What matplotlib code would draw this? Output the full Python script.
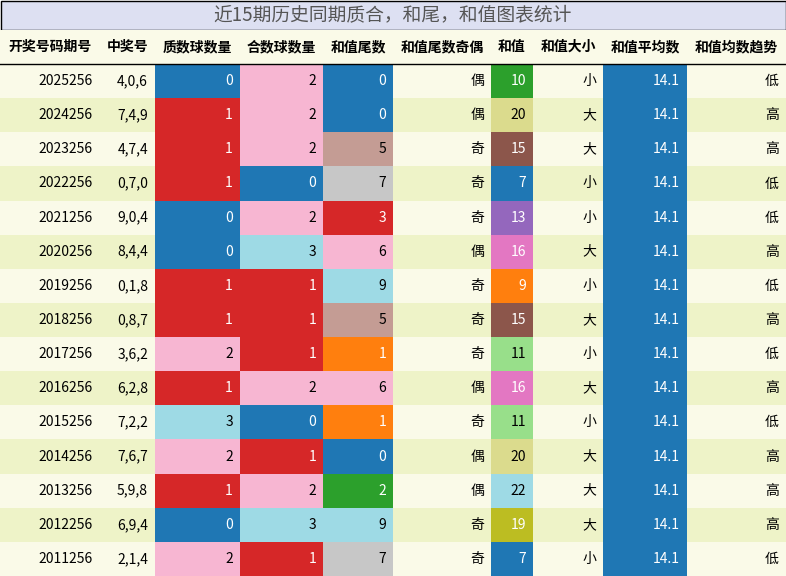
import matplotlib
matplotlib.use("Agg")
import matplotlib.pyplot as plt
from matplotlib.patches import Rectangle

plt.rcParams['font.family'] = ['Noto Sans CJK SC', 'DejaVu Sans']

title = "近15期历史同期质合，和尾，和值图表统计"
headers = ["开奖号码期号", "中奖号", "质数球数量", "合数球数量", "和值尾数", "和值尾数奇偶", "和值", "和值大小", "和值平均数", "和值均数趋势"]
periods = ["2025256","2024256","2023256","2022256","2021256","2020256","2019256","2018256","2017256","2016256","2015256","2014256","2013256","2012256","2011256"]
numbers = ["4,0,6","7,4,9","4,7,4","0,7,0","9,0,4","8,4,4","0,1,8","0,8,7","3,6,2","6,2,8","7,2,2","7,6,7","5,9,8","6,9,4","2,1,4"]
prime_cnt = [0,1,1,1,0,0,1,1,2,1,3,2,1,0,2]
comp_cnt = [2,2,2,0,2,3,1,1,1,2,0,1,2,3,1]
tail = [0,0,5,7,3,6,9,5,1,6,1,0,2,9,7]
parity = ["偶","偶","奇","奇","奇","偶","奇","奇","奇","偶","奇","偶","偶","奇","奇"]
sums = [10,20,15,7,13,16,9,15,11,16,11,20,22,19,7]
size = ["小","大","大","小","小","大","小","大","小","大","小","大","大","大","小"]
avg = [14.1]*15
trend = ["低","高","高","低","低","高","低","高","低","高","低","高","高","高","低"]

cnt_col = {0:'#1f77b4',1:'#d62728',2:'#f7b6d2',3:'#9edae5'}
tail_col = {0:'#1f77b4',1:'#ff7f0e',2:'#2ca02c',3:'#d62728',5:'#c49c94',6:'#f7b6d2',7:'#c7c7c7',9:'#9edae5'}
sum_col = {7:'#1f77b4',9:'#ff7f0e',10:'#2ca02c',11:'#98df8a',13:'#9467bd',15:'#8c564b',16:'#e377c2',19:'#bcbd22',20:'#dbdb8d',22:'#9edae5'}
dark = {'#1f77b4','#d62728','#2ca02c','#ff7f0e','#9467bd','#8c564b','#e377c2','#bcbd22'}

W, H = 786, 576
fig = plt.figure(figsize=(W/100, H/100), dpi=100)
ax = fig.add_axes([0,0,1,1])
ax.set_xlim(0, W); ax.set_ylim(H, 0); ax.axis('off')

cols = [0,100,155,240,323,393,491,533,603,687,786]
title_h, head_h = 30, 34
row_h = (H - title_h - head_h) / 15

ax.add_patch(Rectangle((0.5,0.5), W-1, title_h-1, facecolor='#dde0f2', edgecolor='black', lw=1))
ax.text(W/2, title_h/2, title, ha='center', va='center', fontsize=13.5, color='#555555')
ax.add_patch(Rectangle((0,title_h), W, head_h, facecolor='#fafae8', edgecolor='none'))
for j,h in enumerate(headers):
    ax.text((cols[j]+cols[j+1])/2, title_h+head_h/2, h, ha='center', va='center', fontsize=10, fontweight='bold')
ax.plot([0,W],[title_h+head_h]*2, color='black', lw=1)

for i in range(15):
    y = title_h + head_h + i*row_h
    bg = '#fafae8' if i % 2 == 0 else '#eef3c8'
    ax.add_patch(Rectangle((0,y), W, row_h, facecolor=bg, edgecolor='none'))
    vals = [periods[i], numbers[i], str(prime_cnt[i]), str(comp_cnt[i]), str(tail[i]), parity[i], str(sums[i]), size[i], f"{avg[i]:.1f}", trend[i]]
    fills = [None, None, cnt_col[prime_cnt[i]], cnt_col[comp_cnt[i]], tail_col[tail[i]], None, sum_col[sums[i]], None, '#1f77b4', None]
    for j,v in enumerate(vals):
        f = fills[j]
        if f:
            ax.add_patch(Rectangle((cols[j],y), cols[j+1]-cols[j], row_h, facecolor=f, edgecolor='none'))
        c = 'white' if f in dark else 'black'
        ax.text(cols[j+1]-7, y+row_h/2, v, ha='right', va='center', fontsize=10, color=c)

fig.savefig('out.png', dpi=100)
